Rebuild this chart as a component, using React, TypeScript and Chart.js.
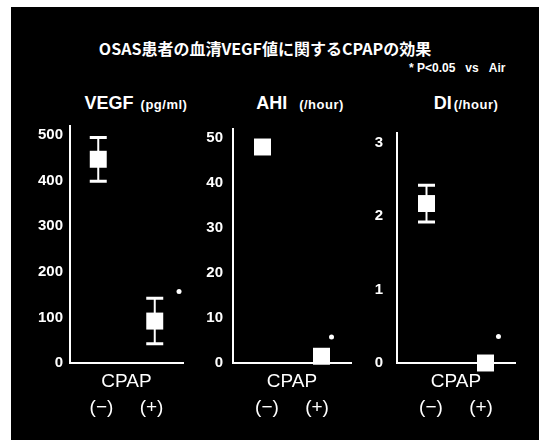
import React, { useEffect, useRef } from "react";
import { Chart, registerables } from "chart.js";

Chart.register(...registerables);

const groups = ["(−)", "(+)"];
const xAxisTitle = "CPAP";

const vegfMean = [447, 92];
const vegfErr = [48, 50];
const vegfSig = [{ x: 2.43, y: 157 }];

const ahiMean = [48, 1.5];
const ahiErr = [0, 0];
const ahiSig = [{ x: 2.17, y: 5.8 }];

const diMean = [2.17, 0];
const diErr = [0.25, 0];
const diSig = [{ x: 2.22, y: 0.36 }];

const vegfTicks = [0, 100, 200, 300, 400, 500];
const ahiTicks = [0, 10, 20, 30, 40, 50];
const diTicks = [0, 1, 2, 3];

const FONT = "'Liberation Sans', Arial, sans-serif";

const errorBars = {
  id: "errorBars",
  beforeDatasetsDraw(chart: any, _args: any, opts: any) {
    const { ctx } = chart;
    const ds = chart.data.datasets[0];
    const errs: number[] = opts.errors || [];
    const xs = chart.scales.x;
    const ys = chart.scales.y;
    ctx.save();
    ctx.strokeStyle = "#ffffff";
    ds.data.forEach((p: any, i: number) => {
      const e = errs[i];
      if (!e) return;
      const x = xs.getPixelForValue(p.x);
      const yt = ys.getPixelForValue(p.y + e);
      const yb = ys.getPixelForValue(p.y - e);
      ctx.lineWidth = 2;
      ctx.beginPath();
      ctx.moveTo(x, yt);
      ctx.lineTo(x, yb);
      ctx.stroke();
      ctx.lineWidth = 3;
      ctx.beginPath();
      ctx.moveTo(x - 8.5, yt);
      ctx.lineTo(x + 8.5, yt);
      ctx.moveTo(x - 8.5, yb);
      ctx.lineTo(x + 8.5, yb);
      ctx.stroke();
    });
    ctx.restore();
  },
};

type PanelProps = {
  left: number;
  top: number;
  width: number;
  height: number;
  axisW: number;
  tickPad: number;
  means: number[];
  errs: number[];
  sig: { x: number; y: number }[];
  ticks: number[];
  yMax: number;
};

function Panel(p: PanelProps) {
  const ref = useRef<HTMLCanvasElement>(null);
  useEffect(() => {
    if (!ref.current) return;
    const chart = new Chart(ref.current, {
      type: "scatter",
      data: {
        datasets: [
          {
            data: p.means.map((m, i) => ({ x: i + 1, y: m })),
            backgroundColor: "#ffffff",
            borderColor: "#ffffff",
            pointStyle: "rect",
            pointRadius: 12,
            borderWidth: 0,
            clip: false,
          } as any,
          {
            data: p.sig,
            backgroundColor: "#ffffff",
            borderColor: "#ffffff",
            pointStyle: "circle",
            pointRadius: 2.5,
            borderWidth: 0,
            clip: false,
          } as any,
        ],
      },
      options: {
        responsive: false,
        animation: false,
        layout: { padding: { top: 15, right: 10, bottom: 0, left: 0 } },
        plugins: {
          legend: { display: false },
          tooltip: { enabled: false },
          errorBars: { errors: p.errs },
        } as any,
        scales: {
          x: {
            type: "linear",
            display: false,
            min: 0.5,
            max: 2.5,
          },
          cat: {
            type: "category",
            position: "bottom",
            offset: true,
            labels: [[xAxisTitle, groups.join("     ")]] as any,
            grid: { display: false, drawTicks: false },
            border: { display: true, color: "#ffffff", width: 2 },
            ticks: {
              color: "#ffffff",
              padding: 6,
              maxRotation: 0,
              font: { family: FONT, size: 19, lineHeight: 1.37 },
            },
            afterFit: (s: any) => {
              s.height = 72;
            },
          } as any,
          y: {
            type: "linear",
            min: 0,
            max: p.yMax,
            afterBuildTicks: (s: any) => {
              s.ticks = p.ticks.map((v) => ({ value: v }));
            },
            grid: { display: false, drawTicks: false },
            border: { display: true, color: "#ffffff", width: 2 },
            ticks: {
              color: "#ffffff",
              padding: p.tickPad,
              font: { family: FONT, size: 15, weight: "bold" },
            },
            afterFit: (s: any) => {
              s.width = p.axisW;
            },
          },
        },
      },
      plugins: [errorBars as any],
    });
    return () => chart.destroy();
  }, []);
  return (
    <canvas
      ref={ref}
      width={p.width}
      height={p.height}
      style={{ position: "absolute", left: p.left, top: p.top, width: p.width, height: p.height }}
    />
  );
}

const textBase: React.CSSProperties = {
  position: "absolute",
  color: "#ffffff",
  whiteSpace: "nowrap",
  fontFamily: FONT,
  lineHeight: "20px",
  height: 20,
};

function Title({ x, y, main, unit, gap }: { x: number; y: number; main: string; unit: string; gap: number }) {
  return (
    <div style={{ ...textBase, left: x, top: y - 10, transform: "translateX(-50%)" }}>
      <span style={{ fontSize: 18, fontWeight: "bold" }}>{main}</span>
      <span style={{ display: "inline-block", width: gap }} />
      <span style={{ fontSize: 13, fontWeight: "bold", letterSpacing: 0.5 }}>{unit}</span>
    </div>
  );
}

export default function App() {
  return (
    <div style={{ position: "absolute", left: 0, top: 0, width: 539, height: 440, background: "#ffffff", overflow: "hidden" }}>
      <div style={{ position: "absolute", left: 11, top: 7, width: 528, height: 433, background: "#000000" }} />
      <div
        style={{
          ...textBase,
          left: 265,
          top: 38,
          transform: "translateX(-50%)",
          fontFamily: "'Noto Sans CJK JP', sans-serif",
          fontSize: 16,
          fontWeight: "bold",
        }}
      >
        OSAS患者の血清VEGF値に関するCPAPの効果
      </div>
      <div style={{ ...textBase, left: 409, top: 58, fontSize: 12, fontWeight: "bold" }}>
        * P&lt;0.05&nbsp;&nbsp;&nbsp;vs&nbsp;&nbsp;&nbsp;Air
      </div>
      <Title x={136} y={103} main="VEGF" unit="(pg/ml)" gap={7} />
      <Title x={300} y={103} main="AHI" unit="(/hour)" gap={12} />
      <Title x={466} y={103} main="DI" unit="(/hour)" gap={2} />
      <Panel left={15} top={110} width={180} height={325} axisW={55} tickPad={7}
        means={vegfMean} errs={vegfErr} sig={vegfSig} ticks={vegfTicks} yMax={520} />
      <Panel left={185} top={110} width={178} height={325} axisW={48} tickPad={10}
        means={ahiMean} errs={ahiErr} sig={ahiSig} ticks={ahiTicks} yMax={52} />
      <Panel left={355} top={110} width={172} height={325} axisW={42} tickPad={14}
        means={diMean} errs={diErr} sig={diSig} ticks={diTicks} yMax={3.13} />
    </div>
  );
}
